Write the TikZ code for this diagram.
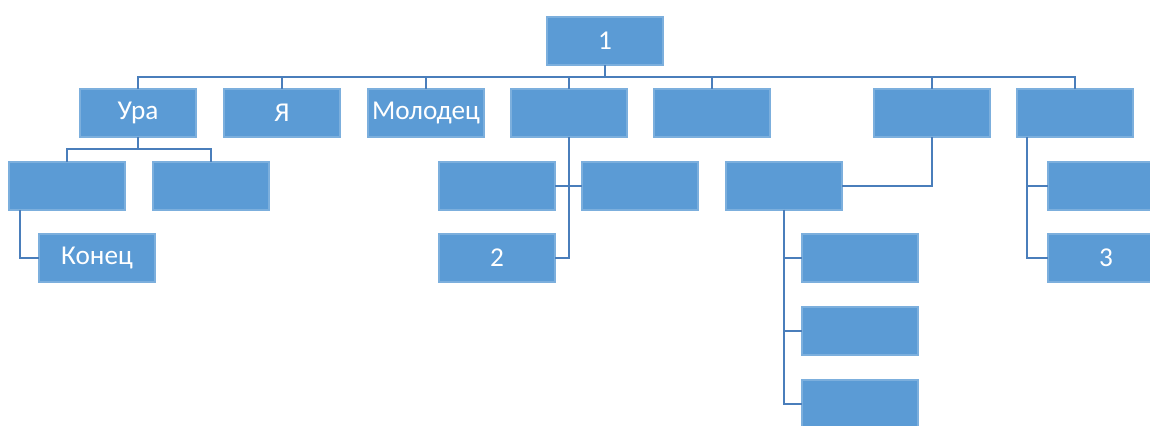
\documentclass[tikz,border=0pt]{standalone}
\usepackage{fontspec}
\setmainfont{Carlito}
\definecolor{boxblue}{HTML}{5B9BD5}
\definecolor{lineblue}{HTML}{4A7EBB}
\begin{document}
\begin{tikzpicture}[x=0.02cm,y=-0.02cm]
\tikzset{ every node/.style={rectangle, draw=boxblue!80!white, line width=.6pt, fill=boxblue, text=white, minimum width=2.32cm, minimum height=0.96cm, inner sep=0pt, outer sep=0pt, font=\fontsize{15.5}{18}\selectfont}}
\tikzstyle{link}=[draw=lineblue,line width=1.3pt]
\useasboundingbox (0,0) rectangle (1150,426);
% vertices
\node (root) at (605,41) {1};
\node (ura) at (138,113) {Ура};
\node (ya) at (282,113) {Я};
\node (mol) at (426,113) {Молодец};
\node (d) at (569,113) {};
\node (e) at (712,113) {};
\node (f) at (932,113) {};
\node (g) at (1075,113) {};
\node (u1) at (67,186) {};
\node (u2) at (211,186) {};
\node (konec) at (97,258) {Конец};
\node (da) at (497,186) {};
\node (db) at (640,186) {};
\node (two) at (497,258) {2};
\node (fc) at (784,186) {};
\node (fc1) at (860,258) {};
\node (fc2) at (860,331) {};
\node (fc3) at (860,404) {};
\node (g1) at (1106,186) {};
\node (g2) at (1106,258) {3};
\coordinate (bus) at (605,77);
\coordinate (ubus) at (138,149);
% edges
\draw[link] (root) -- (bus) -| (ura);
\draw[link] (bus) -| (ya);
\draw[link] (bus) -| (mol);
\draw[link] (bus) -| (d);
\draw[link] (bus) -| (e);
\draw[link] (bus) -| (f);
\draw[link] (bus) -| (g);
\draw[link] (ura) -- (ubus) -| (u1);
\draw[link] (ubus) -| (u2);
\draw[link] ([xshift=0.22cm]u1.south west) |- (konec);
\draw[link] (d) |- (two);
\draw[link] (da) -- (db);
\draw[link] (f) |- (fc);
\draw[link] (fc) |- (fc1);
\draw[link] (fc) |- (fc2);
\draw[link] (fc) |- (fc3);
\draw[link] ([xshift=0.2cm]g.south west) |- (g1);
\draw[link] ([xshift=0.2cm]g.south west) |- (g2);
\end{tikzpicture}
\end{document}
